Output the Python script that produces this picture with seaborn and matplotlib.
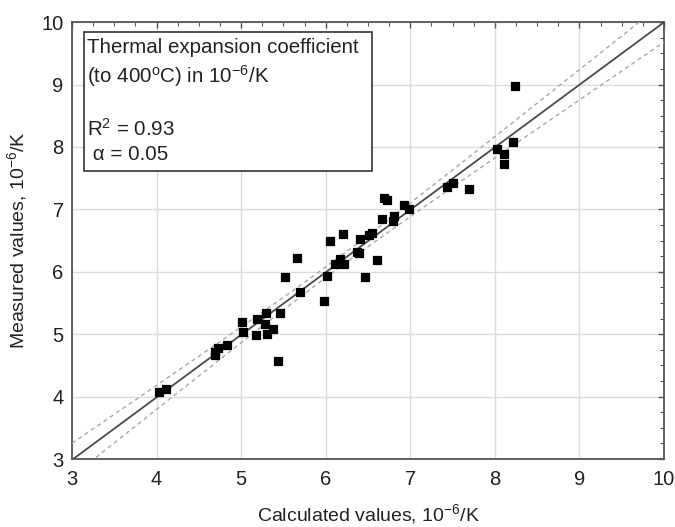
import numpy as np
import pandas as pd
import matplotlib
matplotlib.use("Agg")
import matplotlib.pyplot as plt
from matplotlib.patches import Rectangle
from matplotlib.ticker import MultipleLocator
import seaborn as sns

# ---- data ----
calculated = [4.03, 4.11,
              4.69, 4.69, 4.73, 4.83,
              5.01, 5.02, 5.18, 5.19, 5.28, 5.29, 5.31, 5.38, 5.43, 5.46,
              5.52, 5.66, 5.70,
              5.98, 6.02, 6.05, 6.11, 6.17, 6.21, 6.22,
              6.37, 6.39, 6.41, 6.47, 6.51, 6.55, 6.61,
              6.66, 6.69, 6.73, 6.79, 6.81, 6.92, 6.99,
              7.43, 7.50, 7.70,
              8.03, 8.11, 8.11, 8.22, 8.24]
measured = [4.08, 4.12,
            4.67, 4.72, 4.78, 4.82,
            5.20, 5.04, 4.98, 5.24, 5.17, 5.34, 5.01, 5.09, 4.57, 5.34,
            5.91, 6.22, 5.67,
            5.53, 5.93, 6.50, 6.12, 6.20, 6.60, 6.13,
            6.31, 6.30, 6.52, 5.91, 6.59, 6.62, 6.19,
            6.85, 7.18, 7.15, 6.82, 6.90, 7.07, 7.01,
            7.36, 7.42, 7.32,
            7.96, 7.88, 7.72, 8.08, 8.97]
axis_ticks = [3, 4, 5, 6, 7, 8, 9, 10]
r_squared = "0.93"
alpha_level = "0.05"
t_crit = 2.013  # t(0.975, n-2)

df = pd.DataFrame({"calc": calculated, "meas": measured})

# ---- style ----
sns.set_theme(style="white")
plt.rcParams["font.family"] = ["Liberation Sans", "DejaVu Sans"]
plt.rcParams["mathtext.fontset"] = "custom"
plt.rcParams["mathtext.rm"] = "Liberation Sans"
plt.rcParams["mathtext.it"] = "Liberation Sans:italic"
plt.rcParams["mathtext.bf"] = "Liberation Sans:bold"

fig = plt.figure(figsize=(6.75, 5.27), dpi=100)
ax = fig.add_axes([0.1067, 0.129, 0.877, 0.829])

# regression line and confidence band computed from the data
x = df["calc"].to_numpy()
y = df["meas"].to_numpy()
n = len(x)
slope, intercept = np.polyfit(x, y, 1)
resid = y - (slope * x + intercept)
s = np.sqrt(np.sum(resid ** 2) / (n - 2))
xbar = x.mean()
sxx = np.sum((x - xbar) ** 2)
xs = np.linspace(axis_ticks[0], axis_ticks[-1], 200)
yfit = slope * xs + intercept
half = t_crit * s * np.sqrt(1.0 / n + (xs - xbar) ** 2 / sxx)

ax.plot(xs, yfit, color="#4a4a4a", lw=1.3, zorder=3)
ax.plot(xs, yfit + half, color="#a8a8a8", lw=1.0, ls=(0, (3, 2.5)), zorder=3)
ax.plot(xs, yfit - half, color="#a8a8a8", lw=1.0, ls=(0, (3, 2.5)), zorder=3)

sns.scatterplot(data=df, x="calc", y="meas", ax=ax, marker="s", color="black",
                s=34, edgecolor="black", linewidth=0.9, zorder=4, legend=False)
for coll in ax.collections:
    coll.set_joinstyle("round")

ax.set_xlim(axis_ticks[0], axis_ticks[-1])
ax.set_ylim(axis_ticks[0], axis_ticks[-1])
ax.set_xticks(axis_ticks)
ax.set_yticks(axis_ticks)
ax.set_xticklabels([str(t) for t in axis_ticks])
ax.set_yticklabels([str(t) for t in axis_ticks])
ax.xaxis.set_minor_locator(MultipleLocator(0.25))
ax.yaxis.set_minor_locator(MultipleLocator(0.25))

ax.grid(True, which="major", color="#dcdcdc", lw=1.0, zorder=0)
ax.set_axisbelow(True)
for sp in ax.spines.values():
    sp.set_visible(True)
    sp.set_color("#555555")
    sp.set_linewidth(1.3)

ax.tick_params(which="both", direction="in", top=True, right=True,
               color="#555555", labelsize=14.5, labelcolor="#222222")
ax.tick_params(which="major", length=4, width=1.0)
ax.tick_params(which="minor", length=3, width=0.8)
ax.tick_params(axis="x", which="major", pad=8)
ax.tick_params(axis="y", which="major", pad=6)

ax.set_xlabel(r"Calculated values, 10$^{-6}$/K", fontsize=14, color="#222222", labelpad=9)
ax.set_ylabel(r"Measured values, 10$^{-6}$/K", fontsize=14, color="#222222", labelpad=9)

# annotation box
box = Rectangle((0.0203, 0.659), 0.487, 0.318, transform=ax.transAxes,
                facecolor="white", edgecolor="#333333", lw=1.2, zorder=5)
ax.add_patch(box)
tkw = dict(transform=ax.transAxes, fontsize=14.8, color="#222222", va="center",
           ha="left", zorder=6)
ax.text(0.0253, 0.943, "Thermal expansion coefficient", **tkw)
ax.text(0.0253, 0.876, r"(to 400$^{\mathrm{o}}$C) in 10$^{-6}$/K", **tkw)
ax.text(0.0253, 0.755, r"R$^{2}$ = " + r_squared, **tkw)
ax.text(0.0253, 0.696, " α = " + alpha_level, **tkw)

fig.savefig("out.png", dpi=100)
